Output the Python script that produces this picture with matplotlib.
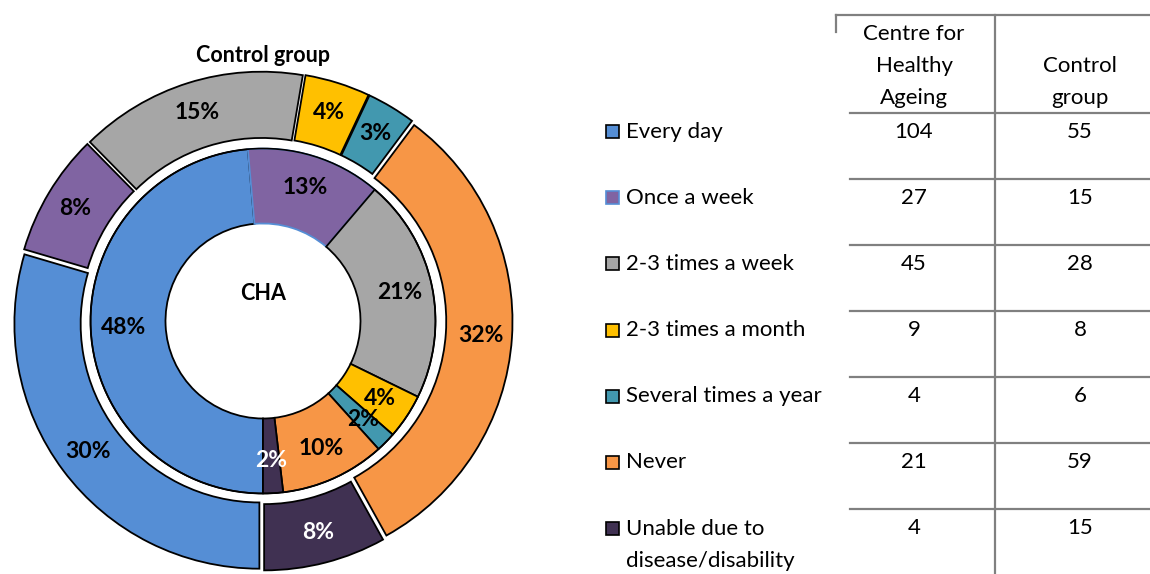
import matplotlib
matplotlib.use("Agg")
import matplotlib.pyplot as plt
from matplotlib.patches import Rectangle
from matplotlib.lines import Line2D
import numpy as np

plt.rcParams['font.family'] = ['Lato', 'DejaVu Sans']

categories = ["Every day", "Once a week", "2-3 times a week", "2-3 times a month",
              "Several times a year", "Never", "Unable due to\ndisease/disability"]
cha_counts = [104, 27, 45, 9, 4, 21, 4]
control_counts = [55, 15, 28, 8, 6, 59, 15]
cha_labels = ["48%", "13%", "21%", "4%", "2%", "10%", "2%"]
control_labels = ["30%", "8%", "15%", "4%", "3%", "32%", "8%"]
colors = ["#558ED5", "#8064A2", "#A6A6A6", "#FFC000", "#4298AF", "#F79646", "#403152"]
edge_colors = ["black", "#558ED5", "black", "black", "black", "black", "black"]
text_colors = ["black"] * 6 + ["white"]

W, H = 1150, 574
fig = plt.figure(figsize=(W / 100, H / 100), dpi=100)


def fx(x):
    return x / W


def fy(y):
    return 1 - y / H


# donut part
ax = fig.add_axes([fx(13), 3 / H, 500 / W, 500 / H])

outer, _ = ax.pie(control_counts, radius=0.98, colors=colors, startangle=270,
                  counterclock=False, explode=[0.018] * 7,
                  wedgeprops=dict(width=0.265, edgecolor="black", linewidth=1.3))
inner, _ = ax.pie(cha_counts, radius=0.69, colors=colors, startangle=270,
                  counterclock=False,
                  wedgeprops=dict(width=0.30, edgecolor="black", linewidth=1.3))
for w, ec in zip(inner, edge_colors):
    w.set_edgecolor(ec)
for w in outer + inner:
    w.set_clip_on(False)
ax.set_xlim(-1, 1)
ax.set_ylim(-1, 1)
ax.axis("off")

# white ring between the two donuts
ax.add_patch(plt.Circle((0, 0), 0.703, fill=False, edgecolor="white", linewidth=3))
ax.add_patch(plt.Circle((0, 0), 0.69, fill=False, edgecolor="black", linewidth=1.2))


def put_labels(wedges, labels, r):
    for w, lab, tc in zip(wedges, labels, text_colors):
        ang = np.deg2rad((w.theta1 + w.theta2) / 2)
        ax.text(r * np.cos(ang), r * np.sin(ang), lab, ha="center", va="center",
                fontsize=16.5, fontweight="bold", color=tc)


put_labels(outer, control_labels, 0.875)
put_labels(inner, cha_labels, 0.56)

fig.text(fx(263), fy(56), "Control group", ha="center", va="center",
         fontsize=15.5, fontweight="bold")
fig.text(fx(263), fy(293), "CHA", ha="center", va="center",
         fontsize=15.5, fontweight="bold")

# table on the right
grid = "#808080"
lw = 1.6
fig.add_artist(Line2D([fx(836), fx(1150)], [fy(14.5), fy(14.5)], color=grid, lw=lw))
fig.add_artist(Line2D([fx(836), fx(836)], [fy(14.5), fy(32)], color=grid, lw=lw))
fig.add_artist(Line2D([fx(994.5), fx(994.5)], [fy(14.5), fy(574)], color=grid, lw=lw))

fs = 16
col1_x, col2_x = 914, 1080
fig.text(fx(col1_x), fy(66), "Centre for\nHealthy\nAgeing", ha="center", va="center",
         fontsize=fs, linespacing=1.78)
fig.text(fx(col2_x), fy(82), "Control\ngroup", ha="center", va="center",
         fontsize=fs, linespacing=1.78)

row_top = 112.7
row_h = 66.1
for i, (cat, a, b) in enumerate(zip(categories, cha_counts, control_counts)):
    y_line = row_top + i * row_h
    fig.add_artist(Line2D([fx(850), fx(1150)], [fy(y_line), fy(y_line)], color=grid, lw=lw))
    y_txt = y_line + 19
    fig.text(fx(col1_x), fy(y_txt), str(a), ha="center", va="center", fontsize=fs)
    fig.text(fx(col2_x), fy(y_txt), str(b), ha="center", va="center", fontsize=fs)
    fig.add_artist(Rectangle((fx(606), fy(y_txt + 6.5)), 13 / W, 13 / H,
                             facecolor=colors[i], edgecolor=edge_colors[i], lw=1.2))
    if "\n" in cat:
        fig.text(fx(626), fy(y_txt - 9), cat, ha="left", va="top",
                 fontsize=fs, linespacing=1.72)
    else:
        fig.text(fx(626), fy(y_txt), cat, ha="left", va="center", fontsize=fs)

fig.savefig("out.png", dpi=100)
